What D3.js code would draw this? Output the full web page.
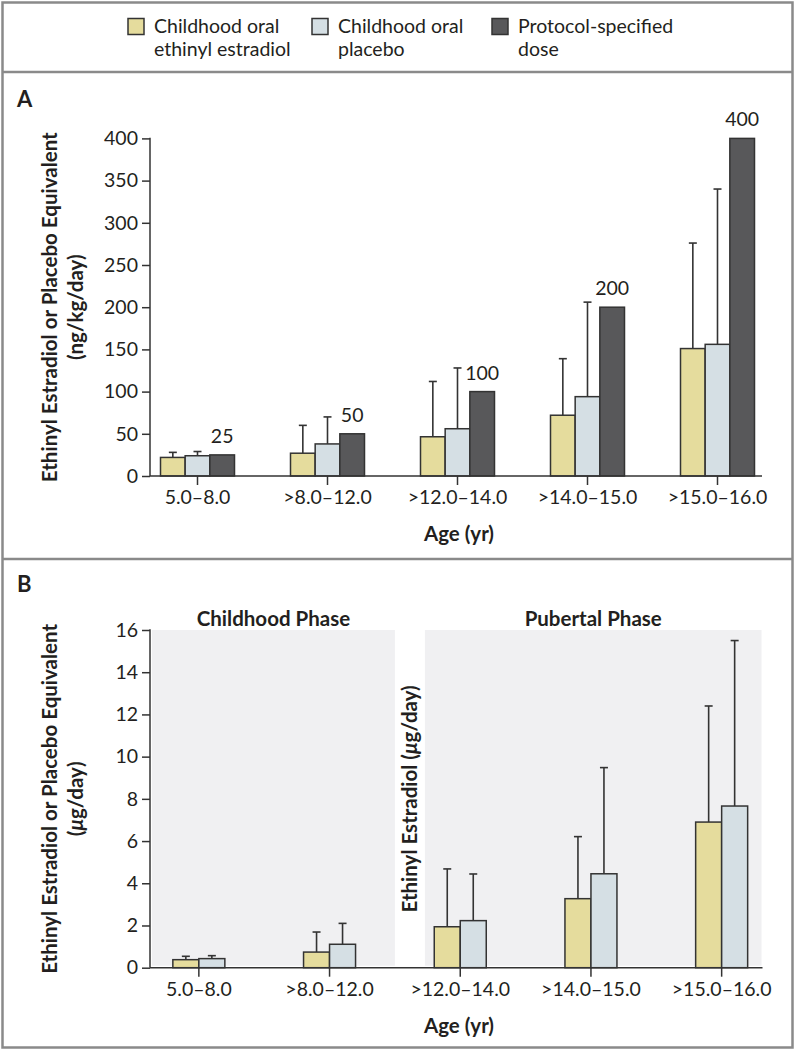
<!DOCTYPE html>
<html><head><meta charset="utf-8">
<script src="https://cdn.jsdelivr.net/npm/d3@7"></script>
<style>
body{margin:0;background:#fff}
svg{display:block}
text{font-family:Lato,"Open Sans",sans-serif;fill:#231f20}
</style>
</head><body>
<svg id="c" width="798" height="1050"></svg>
<script>
// ---------- data ----------
const categories = ["5.0–8.0", ">8.0–12.0", ">12.0–14.0", ">14.0–15.0", ">15.0–16.0"];
const seriesKeys = ["estradiol", "placebo", "protocol"];
const legendLines = [["Childhood oral", "ethinyl estradiol"], ["Childhood oral", "placebo"], ["Protocol-specified", "dose"]];
const seriesColors = ["#e5dc9d", "#d5dfe4", "#58585a"];

// Panel A (ng/kg/day)
const aEstradiol    = [22, 27, 46.5, 72, 151];
const aEstradiolErr = [28, 60, 112, 139, 276];
const aPlacebo      = [24, 38, 56, 94, 156];
const aPlaceboErr   = [29, 70, 128, 206, 340];
const aProtocol     = [25, 50, 100, 200, 400];
const aTicks = [0, 50, 100, 150, 200, 250, 300, 350, 400];

// Panel B (µg/day)
const bEstradiol    = [0.38, 0.74, 1.94, 3.27, 6.9];
const bEstradiolErr = [0.54, 1.69, 4.68, 6.21, 12.4];
const bPlacebo      = [0.43, 1.11, 2.23, 4.45, 7.66];
const bPlaceboErr   = [0.57, 2.1, 4.44, 9.48, 15.5];
const bTicks = [0, 2, 4, 6, 8, 10, 12, 14, 16];
const phases = ["Childhood Phase", "Pubertal Phase"];

// ---------- drawing ----------
const svg = d3.select("#c");
const STROKE = "#333";
const FS = 19.5;
const TFS = 20.5;

// frame
svg.append("rect").attr("x", 2.5).attr("y", 2.5).attr("width", 790).attr("height", 1045)
  .attr("fill", "none").attr("stroke", "#8a8a8a").attr("stroke-width", 2.5);
[72, 559].forEach(y => svg.append("line").attr("x1", 2.5).attr("x2", 792.5).attr("y1", y).attr("y2", y)
  .attr("stroke", "#8a8a8a").attr("stroke-width", 2.5));

// legend
const legX = [128, 312, 492];
legendLines.forEach((lines, i) => {
  const g = svg.append("g");
  g.append("rect").attr("x", legX[i]).attr("y", 18.5).attr("width", 16).attr("height", 16)
    .attr("fill", seriesColors[i]).attr("stroke", STROKE).attr("stroke-width", 1.5);
  lines.forEach((t, j) => g.append("text").attr("x", legX[i] + 26).attr("y", 33 + j * 22.5)
    .attr("font-size", FS).text(t));
});

function yAxis(y, ticks, x0) {
  const ax = d3.axisLeft(y).tickValues(ticks).tickSize(8).tickPadding(4);
  const g = svg.append("g").attr("transform", `translate(${x0},0)`).call(ax);
  g.select(".domain").remove();
  g.selectAll(".tick line").attr("stroke", STROKE).attr("stroke-width", 1.5);
  g.selectAll(".tick text").attr("font-size", FS).attr("font-family", "Lato").attr("fill", "#231f20");
  svg.append("line").attr("x1", x0).attr("x2", x0).attr("y1", y.range()[1] - 0.75).attr("y2", y.range()[0])
    .attr("stroke", STROKE).attr("stroke-width", 1.5);
}
function xAxis(x, y0, xStart, xEnd) {
  const ax = d3.axisBottom(x).tickSize(9).tickPadding(5);
  const g = svg.append("g").attr("transform", `translate(0,${y0})`).call(ax);
  g.select(".domain").remove();
  g.selectAll(".tick line").attr("stroke", STROKE).attr("stroke-width", 1.5);
  g.selectAll(".tick text").attr("font-size", FS).attr("font-family", "Lato").attr("fill", "#231f20");
  svg.append("line").attr("x1", xStart).attr("x2", xEnd).attr("y1", y0).attr("y2", y0)
    .attr("stroke", STROKE).attr("stroke-width", 1.5);
}
function yTitle(lines, cy, xs) {
  lines.forEach((ln, j) => {
    const t = svg.append("text").attr("transform", `translate(${xs[j]},${cy}) rotate(-90)`)
      .attr("text-anchor", "middle").attr("font-size", TFS).attr("font-weight", 700);
    ln.forEach(p => t.append("tspan").attr("font-style", p.i ? "italic" : "normal").text(p.t));
  });
}
function errBars(xc, yTop, yErr) {
  svg.append("line").attr("x1", xc).attr("x2", xc).attr("y1", yTop).attr("y2", yErr)
    .attr("stroke", STROKE).attr("stroke-width", 1.6);
  svg.append("line").attr("x1", xc - 4).attr("x2", xc + 4).attr("y1", yErr).attr("y2", yErr)
    .attr("stroke", STROKE).attr("stroke-width", 1.6);
}

// ---------- Panel A ----------
{
  const y = d3.scaleLinear().domain([0, 400]).range([476, 138.4]);
  const x0 = d3.scaleBand().domain(categories).range([132.5, 782.5]);
  const x1 = d3.scaleBand().domain(seriesKeys).range([0, 74]);
  const off = (x0.bandwidth() - 74) / 2;
  svg.append("text").attr("x", 17).attr("y", 107).attr("font-size", 22).attr("font-weight", 700).text("A");
  const vals = [aEstradiol, aPlacebo, aProtocol];
  const errs = [aEstradiolErr, aPlaceboErr, null];
  seriesKeys.forEach((k, si) => {
    categories.forEach((c, ci) => {
      const bx = x0(c) + off + x1(k);
      const v = vals[si][ci];
      if (errs[si]) errBars(bx + x1.bandwidth() / 2, y(v), y(errs[si][ci]));
      svg.append("rect").attr("x", bx).attr("y", y(v)).attr("width", x1.bandwidth()).attr("height", y(0) - y(v))
        .attr("fill", seriesColors[si]).attr("stroke", STROKE).attr("stroke-width", 1.5);
      if (k === "protocol") {
        svg.append("text").attr("x", bx + x1.bandwidth() / 2).attr("y", y(v) - 12)
          .attr("text-anchor", "middle").attr("font-size", FS).text(v);
      }
    });
  });
  yAxis(y, aTicks, 150);
  xAxis(x0, 476, 150, 762);
  yTitle([[{t: "Ethinyl Estradiol or Placebo Equivalent"}], [{t: "(ng/kg/day)"}]], (y(0) + y(400)) / 2, [57, 83]);
  svg.append("text").attr("x", 459).attr("y", 541).attr("text-anchor", "middle")
    .attr("font-size", TFS).attr("font-weight", 700).text("Age (yr)");
}

// ---------- Panel B ----------
{
  const y = d3.scaleLinear().domain([0, 16]).range([967.7, 630]);
  const x0 = d3.scaleBand().domain(categories).range([133.5, 787]);
  const x1 = d3.scaleBand().domain(seriesKeys.slice(0, 2)).range([0, 52]);
  const off = (x0.bandwidth() - 52) / 2;
  svg.append("text").attr("x", 17).attr("y", 592).attr("font-size", 22).attr("font-weight", 700).text("B");

  // phase backgrounds
  const splitX = x0(categories[2]);
  const regions = [[152, splitX], [splitX + 30, 761.5]];
  regions.forEach((r, i) => {
    svg.append("rect").attr("x", r[0]).attr("y", y(16)).attr("width", r[1] - r[0]).attr("height", y(0) - 2 - y(16))
      .attr("fill", "#f0f0f2");
    svg.append("text").attr("x", (r[0] + r[1]) / 2).attr("y", 626).attr("text-anchor", "middle")
      .attr("font-size", TFS).attr("font-weight", 700).text(phases[i]);
  });

  const vals = [bEstradiol, bPlacebo];
  const errs = [bEstradiolErr, bPlaceboErr];
  ["estradiol", "placebo"].forEach((k, si) => {
    categories.forEach((c, ci) => {
      const bx = x0(c) + off + x1(k);
      const v = vals[si][ci];
      errBars(bx + x1.bandwidth() / 2, y(v), y(errs[si][ci]));
      svg.append("rect").attr("x", bx).attr("y", y(v)).attr("width", x1.bandwidth()).attr("height", y(0) - y(v))
        .attr("fill", seriesColors[si]).attr("stroke", STROKE).attr("stroke-width", 1.5);
    });
  });
  yAxis(y, bTicks, 150);
  xAxis(x0, 967.7, 150, 762.5);
  yTitle([[{t: "Ethinyl Estradiol or Placebo Equivalent"}], [{t: "("}, {t: "μ", i: true}, {t: "g/day)"}]], (y(0) + y(16)) / 2, [57, 83]);
  yTitle([[{t: "Ethinyl Estradiol ("}, {t: "μ", i: true}, {t: "g/day)"}]], (y(0) + y(16)) / 2, [417]);
  svg.append("text").attr("x", 459).attr("y", 1033).attr("text-anchor", "middle")
    .attr("font-size", TFS).attr("font-weight", 700).text("Age (yr)");
}
</script>
</body></html>
